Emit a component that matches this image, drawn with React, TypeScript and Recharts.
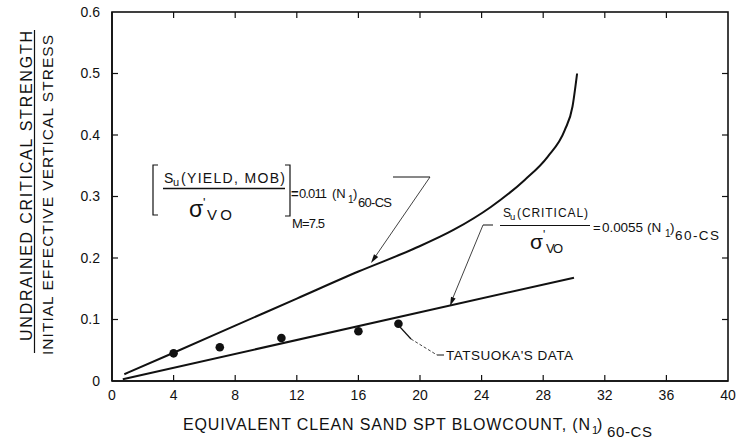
import React from 'react';
import { ComposedChart, Line, Scatter, XAxis, YAxis } from 'recharts';

// ---- data ----
const xTicks = [0, 4, 8, 12, 16, 20, 24, 28, 32, 36, 40];
const yTicks = [0, 0.1, 0.2, 0.3, 0.4, 0.5, 0.6];

// Su(yield, mob)/σ'vo curve
const yieldN = [0.8, 4, 8, 12, 16, 19.6, 22.2, 24.6, 26.8, 28.3, 29.4, 29.9, 30.2];
const yieldV = [0.011, 0.046, 0.09, 0.134, 0.178, 0.215, 0.246, 0.283, 0.327, 0.365, 0.408, 0.446, 0.5];

// Su(critical)/σ'vo line
const critN = [0.7, 30];
const critV = [0.003, 0.168];

// Tatsuoka's data
const tatN = [4, 7, 11, 16, 18.6];
const tatV = [0.045, 0.055, 0.07, 0.081, 0.093];

const yieldData = yieldN.map((n, i) => ({ n, v: yieldV[i] }));
const critData = critN.map((n, i) => ({ n, v: critV[i] }));
const tatData = tatN.map((n, i) => ({ n, v: tatV[i] }));

const X_MAX = 40;
const Y_MAX = 0.6;

// ---- layout (shared by the chart and the frame overlay) ----
const W = 736;
const H = 443;
const MARGIN = { top: 12, right: 8, bottom: 0, left: 0 };
const Y_AXIS_W = 112;
const X_AXIS_H = 62;
const PL = MARGIN.left + Y_AXIS_W;
const PT = MARGIN.top;
const PR = W - MARGIN.right;
const PB = H - MARGIN.bottom - X_AXIS_H;
const TICK = 6;
const sx = (n: number) => PL + ((PR - PL) * n) / X_MAX;
const sy = (v: number) => PB - ((PB - PT) * v) / Y_MAX;

const INK = '#111111';
const FONT = '"Liberation Sans", Arial, Helvetica, sans-serif';

const Dot = (p: any) => <circle cx={p.cx} cy={p.cy} r={4.3} fill={INK} />;

const T = (props: any) => (
  <text fontFamily={FONT} fill={INK} {...props} />
);

const Frame = () => (
  <g>
    <rect x={PL} y={PT} width={PR - PL} height={PB - PT} fill="none" stroke={INK} strokeWidth={1.6} />
    {xTicks.slice(1, -1).map((t) => (
      <g key={'x' + t}>
        <line x1={sx(t)} x2={sx(t)} y1={PB} y2={PB - TICK} stroke={INK} strokeWidth={1.2} />
        <line x1={sx(t)} x2={sx(t)} y1={PT} y2={PT + TICK} stroke={INK} strokeWidth={1.2} />
      </g>
    ))}
    {yTicks.slice(1, -1).map((t) => (
      <g key={'y' + t}>
        <line x1={PL} x2={PL + TICK} y1={sy(t)} y2={sy(t)} stroke={INK} strokeWidth={1.2} />
        <line x1={PR} x2={PR - TICK} y1={sy(t)} y2={sy(t)} stroke={INK} strokeWidth={1.2} />
      </g>
    ))}
  </g>
);

const Overlay = () => (
  <svg
    width={W}
    height={H}
    style={{ position: 'absolute', left: 0, top: 0, pointerEvents: 'none' }}
  >
    <Frame />

    {/* y axis title */}
    <T transform="translate(32,186) rotate(-90)" textAnchor="middle" fontSize={16} textLength={310} lengthAdjust="spacing">
      UNDRAINED CRITICAL STRENGTH
    </T>
    <line x1={34.5} y1={30} x2={34.5} y2={353} stroke={INK} strokeWidth={1.2} />
    <T transform="translate(53,195) rotate(-90)" textAnchor="middle" fontSize={15.5} textLength={320} lengthAdjust="spacing">
      INITIAL EFFECTIVE VERTICAL STRESS
    </T>

    {/* x axis title */}
    <T x={183} y={430} fontSize={16} textLength={407} lengthAdjust="spacing">
      EQUIVALENT CLEAN SAND SPT BLOWCOUNT, (N
    </T>
    <T x={592} y={434} fontSize={11}>1</T>
    <T x={597} y={430} fontSize={16}>)</T>
    <T x={607} y={437} fontSize={15} textLength={45} lengthAdjust="spacing">60-CS</T>

    {/* yield annotation */}
    <path d="M158,165 L153,165 L153,215 L158,215" fill="none" stroke={INK} strokeWidth={1.2} />
    <path d="M285,165 L290,165 L290,216 L285,216" fill="none" stroke={INK} strokeWidth={1.2} />
    <T x={164} y={183} fontSize={14}>S</T>
    <T x={173} y={186} fontSize={11}>u</T>
    <T x={181} y={183} fontSize={14} textLength={104} lengthAdjust="spacing">(YIELD, MOB)</T>
    <line x1={163} y1={188.5} x2={285} y2={188.5} stroke={INK} strokeWidth={1.3} />
    <T x={189} y={217} fontSize={23}>σ</T>
    <T x={203} y={207} fontSize={13}>'</T>
    <T x={207} y={220} fontSize={15} textLength={25} lengthAdjust="spacing">VO</T>
    <T x={291} y={198} fontSize={13} fontWeight="bold">=</T>
    <T x={299} y={198} fontSize={13} textLength={28} lengthAdjust="spacing">0.011</T>
    <T x={332} y={198} fontSize={13}>(N</T>
    <T x={348} y={203} fontSize={10}>1</T>
    <T x={353} y={198} fontSize={13}>)</T>
    <T x={358} y={207} fontSize={13} textLength={34} lengthAdjust="spacing">60-CS</T>
    <T x={292} y={228} fontSize={13} textLength={33} lengthAdjust="spacing">M=7.5</T>
    <path d="M393,177 L430,177" fill="none" stroke={INK} strokeWidth={1} />
    <path d="M430,177 L375,257" fill="none" stroke={INK} strokeWidth={0.8} />
    <path d="M371,263 L378.2,257 L374,254.2 Z" fill={INK} />

    {/* critical annotation */}
    <path d="M483,225 L493,225" fill="none" stroke={INK} strokeWidth={1} />
    <path d="M483,225 L452,300" fill="none" stroke={INK} strokeWidth={0.8} />
    <path d="M450,306 L455.6,298.5 L451,296.7 Z" fill={INK} />
    <T x={503} y={217} fontSize={12}>S</T>
    <T x={510} y={220} fontSize={9.5}>u</T>
    <T x={517} y={217} fontSize={12} textLength={71} lengthAdjust="spacing">(CRITICAL)</T>
    <line x1={500} y1={225.5} x2={590} y2={225.5} stroke={INK} strokeWidth={1.2} />
    <T x={530} y={249} fontSize={21}>σ</T>
    <T x={543} y={239} fontSize={12}>'</T>
    <T x={546} y={253} fontSize={13} textLength={17} lengthAdjust="spacing">VO</T>
    <T x={593} y={232} fontSize={13}>=</T>
    <T x={602} y={232} fontSize={13.5} textLength={41} lengthAdjust="spacing">0.0055</T>
    <T x={647} y={232} fontSize={13.5}>(N</T>
    <T x={665} y={237} fontSize={10}>1</T>
    <T x={670} y={232} fontSize={13.5}>)</T>
    <T x={675} y={240} fontSize={13.5} textLength={44} lengthAdjust="spacing">60-CS</T>

    {/* Tatsuoka's data annotation */}
    <path d="M400,327 L411,339" fill="none" stroke={INK} strokeWidth={1.2} />
    <path d="M411,339 L437,355" fill="none" stroke={INK} strokeWidth={0.8} strokeDasharray="3 2" />
    <path d="M437,355 L444,355" fill="none" stroke={INK} strokeWidth={1} />
    <T x={446} y={360} fontSize={13.5} textLength={127} lengthAdjust="spacing">TATSUOKA'S DATA</T>
  </svg>
);

export default function App() {
  const tickStyle = { fill: INK, fontSize: 14, fontFamily: FONT };
  const axisLine = { stroke: INK, strokeWidth: 1.6 };
  return (
    <div style={{ position: 'absolute', left: 0, top: 0, width: W, height: H, background: '#fff' }}>
      <ComposedChart width={W} height={H} margin={MARGIN}>
        <XAxis
          xAxisId="b"
          type="number"
          dataKey="n"
          domain={[0, X_MAX]}
          ticks={xTicks}
          height={X_AXIS_H}
          tickSize={0}
          tickMargin={9}
          tickLine={false}
          tick={tickStyle}
          stroke={INK}
          axisLine={axisLine}
        />
        <YAxis
          yAxisId="l"
          type="number"
          dataKey="v"
          domain={[0, Y_MAX]}
          ticks={yTicks}
          width={Y_AXIS_W}
          tickSize={0}
          tickMargin={12}
          tickLine={false}
          tick={tickStyle}
          stroke={INK}
          tickFormatter={(v: number) => (v === 0 ? '0' : String(v))}
          axisLine={axisLine}
        />
        <Line
          xAxisId="b"
          yAxisId="l"
          data={yieldData}
          dataKey="v"
          type="monotone"
          stroke={INK}
          strokeWidth={2}
          dot={false}
          activeDot={false}
          isAnimationActive={false}
        />
        <Line
          xAxisId="b"
          yAxisId="l"
          data={critData}
          dataKey="v"
          type="linear"
          stroke={INK}
          strokeWidth={2}
          dot={false}
          activeDot={false}
          isAnimationActive={false}
        />
        <Scatter
          xAxisId="b"
          yAxisId="l"
          data={tatData}
          dataKey="v"
          shape={Dot}
          isAnimationActive={false}
        />
      </ComposedChart>
      <Overlay />
    </div>
  );
}
